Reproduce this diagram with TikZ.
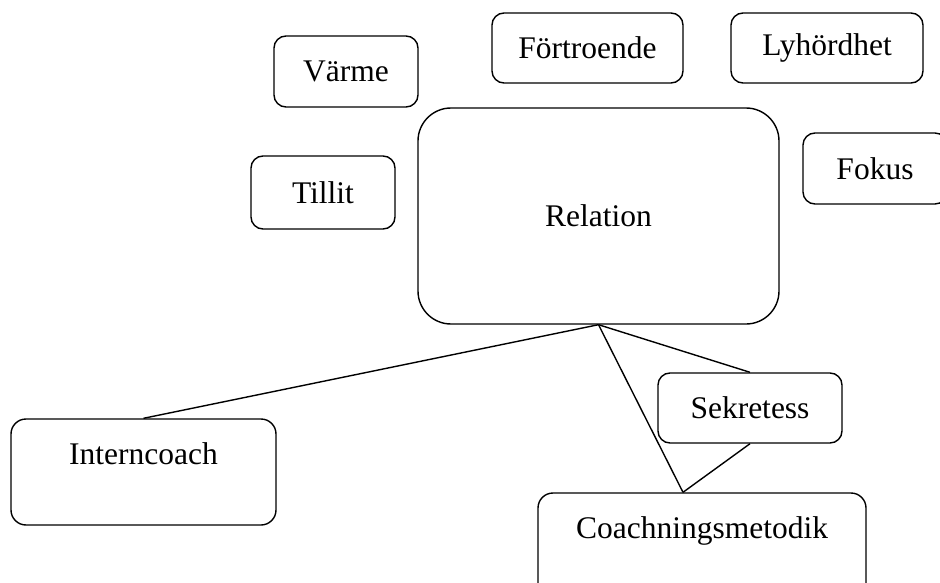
\documentclass[tikz,border=0pt]{standalone}
\usepackage{fontspec}
\setmainfont{Liberation Serif}
\usepackage{tikz}

\begin{document}
\begin{tikzpicture}[x=1pt, y=-1pt,
    box/.style={draw, line width=1.4pt, rounded corners=12pt, fill=white, inner sep=0pt,
      font=\fontsize{31.5}{38}\selectfont},
    toptext/.style={label={[anchor=north, inner sep=0pt, yshift=-24pt,
      font=\fontsize{31.5}{38}\selectfont]north:#1}},
    link/.style={line width=1.4pt}]
    \useasboundingbox (0,0) rectangle (940,583);
    \clip (0,0) rectangle (940,583);
    \node[box, minimum width=144pt, minimum height=71pt] (varme) at (346,71.5) {Värme};
    \node[box, minimum width=191pt, minimum height=70pt] (fortro) at (587.5,48) {Förtroende};
    \node[box, minimum width=192pt, minimum height=70pt] (lyhord) at (827,48) {Lyhördhet};
    \node[box, minimum width=144pt, minimum height=73pt] (tillit) at (323,192.5) {Tillit};
    \node[box, minimum width=144pt, minimum height=71pt] (fokus) at (875,168.5) {Fokus};
    \node[box, rounded corners=33pt, minimum width=361pt, minimum height=216pt] (relation) at (598.5,216) {Relation};
    \node[box, minimum width=184pt, minimum height=70pt] (sekret) at (750,408) {Sekretess};
    \node[box, rounded corners=15pt, minimum width=265pt, minimum height=106pt,
      toptext=Interncoach] (intern) at (143.5,472) {};
    \node[box, rounded corners=15pt, minimum width=328pt, minimum height=110pt,
      toptext=Coachningsmetodik] (coach) at (702,548) {};
    \coordinate (coachtop) at ([xshift=-19pt]coach.north);
    \draw[link] (relation.south) -- (intern.north);
    \draw[link] (relation.south) -- (coachtop);
    \draw[link] (relation.south) -- (sekret.north);
    \draw[link] (sekret.south) -- (coachtop);
\end{tikzpicture}
\end{document}
